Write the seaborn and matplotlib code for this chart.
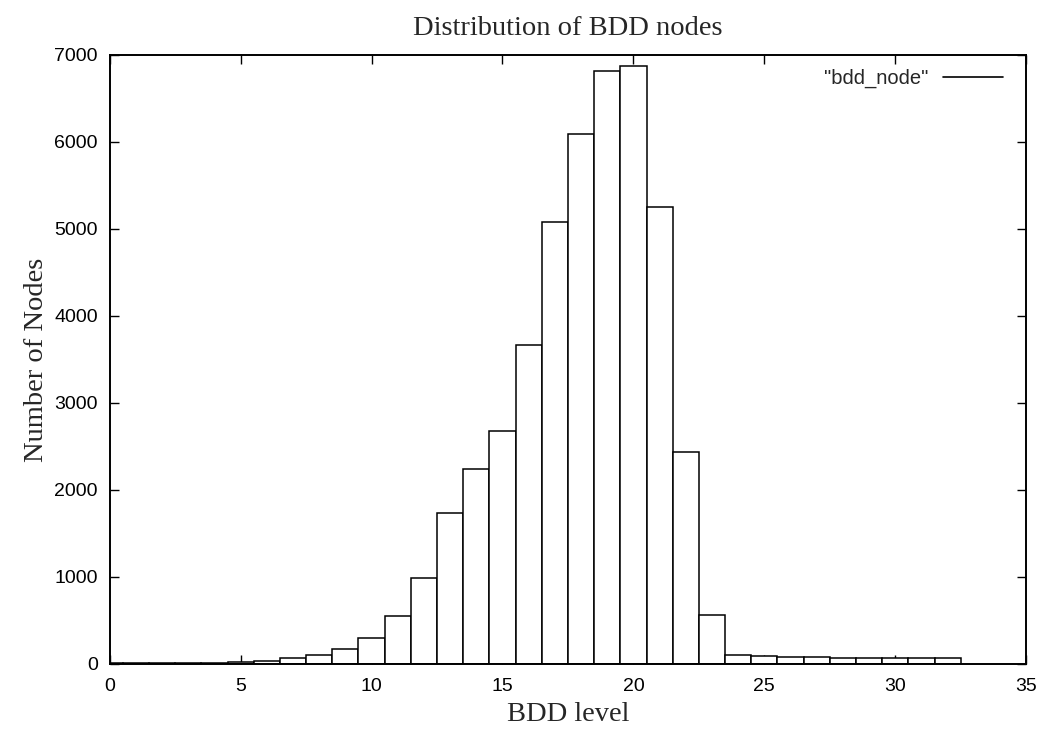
import numpy as np
import matplotlib as mpl
_ = mpl.use('Agg')
import matplotlib.pyplot as plt
import seaborn as sns
import pandas as pd
from matplotlib.lines import Line2D

# nodes per BDD level
levels = list(range(0, 33))
nodes = [5, 7, 9, 11, 14, 24, 38, 65, 100, 176, 302, 550, 990, 1736, 2241,
         2678, 3660, 5085, 6090, 6815, 6870, 5255, 2440, 560, 105, 95, 84,
         78, 72, 70, 70, 68, 63]

df = pd.DataFrame({'level': levels, 'nodes': nodes})

sns.set_style('ticks')
plt.rcParams['font.family'] = ['Liberation Sans', 'DejaVu Sans']

fig = plt.figure(figsize=(10.45, 7.32), dpi=100)
ax = fig.add_axes([0.105, 0.093, 0.877, 0.832])

sns.histplot(data=df, x='level', weights='nodes', discrete=True, ax=ax,
             color='white', edgecolor='black', linewidth=1.1, alpha=1.0)

ax.set_xlim(0, 35)
ax.set_ylim(0, 7000)
ax.set_xticks(np.arange(0, 36, 5))
ax.set_yticks(np.arange(0, 7001, 1000))
ax.tick_params(direction='in', length=6.5, width=1.0, top=True, right=True,
               labelsize=14, colors='black')
ax.tick_params(axis='x', pad=10)
ax.tick_params(axis='y', pad=8.5)
for s in ax.spines.values():
    s.set_visible(True)
    s.set_linewidth(1.4)
    s.set_color('black')

serif = ['Liberation Serif', 'DejaVu Serif']
ax.set_xlabel('BDD level', family=serif, fontsize=20.5, labelpad=5)
ax.set_ylabel('Number of Nodes', family=serif, fontsize=20.5, labelpad=4)
ax.set_title('Distribution of BDD nodes', family=serif, fontsize=20.5, pad=14)

handle = Line2D([0], [0], color='black', linewidth=1.2)
leg = ax.legend([handle], ['"bdd_node"'], loc='upper right', frameon=False,
                fontsize=14.5, markerfirst=False, handlelength=3.0,
                handletextpad=0.7, borderaxespad=0.3,
                bbox_to_anchor=(0.99, 1.0))

fig.savefig('out.png', dpi=100)
